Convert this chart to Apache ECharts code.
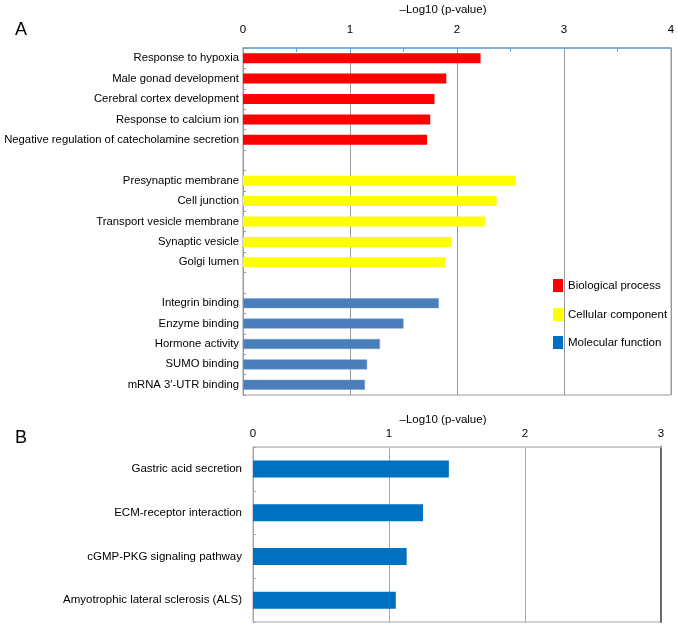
<!DOCTYPE html>
<html>
<head>
<meta charset="utf-8">
<script src="https://cdn.jsdelivr.net/npm/echarts@6/dist/echarts.min.js"></script>
<style>html,body{margin:0;padding:0;background:#fff}#c{width:677px;height:627px}</style>
</head>
<body>
<div id="c"></div>
<script>
// ---- data ----
var bioNames = ['Response to hypoxia','Male gonad development','Cerebral cortex development','Response to calcium ion','Negative regulation of catecholamine secretion'];
var bioVals = [2.22, 1.90, 1.79, 1.75, 1.72];
var ccNames = ['Presynaptic membrane','Cell junction','Transport vesicle membrane','Synaptic vesicle','Golgi lumen'];
var ccVals = [2.55, 2.37, 2.26, 1.95, 1.89];
var mfNames = ['Integrin binding','Enzyme binding','Hormone activity','SUMO binding','mRNA 3\u2032-UTR binding'];
var mfVals = [1.83, 1.50, 1.28, 1.16, 1.14];
var keggNames = ['Gastric acid secretion','ECM-receptor interaction','cGMP-PKG signaling pathway','Amyotrophic lateral sclerosis (ALS)'];
var keggVals = [1.44, 1.25, 1.13, 1.05];
var ticksA = [0, 1, 2, 3, 4];
var ticksB = [0, 1, 2, 3];
var axisTitle = '\u2013Log10 (p-value)';

// ---- build ----
var catsA = bioNames.concat([' ']).concat(ccNames).concat(['  ']).concat(mfNames);
function place(vals, offset) {
  var arr = catsA.map(function () { return null; });
  vals.forEach(function (v, i) { arr[offset + i] = v; });
  return arr;
}
var FONT = 'Liberation Sans, Arial, Helvetica, sans-serif';
var FS = 11.5;
function legendAt(top, item) {
  return {data: [item], left: 553, top: top, padding: 0, orient: 'vertical', icon: 'rect', itemWidth: 10, itemHeight: 13,
          selectedMode: false, itemStyle: {borderWidth: 0}, textStyle: {fontSize: FS, color: '#000', fontFamily: FONT}};
}
var chart = echarts.init(document.getElementById('c'), null, {renderer: 'canvas'});
var option = {
  animation: false,
  textStyle: {fontFamily: FONT},
  graphic: [
    {type: 'text', left: 15, top: 21, style: {text: 'A', font: '18px ' + FONT, fill: '#000'}},
    {type: 'text', left: 15, top: 429, style: {text: 'B', font: '18px ' + FONT, fill: '#000'}},
    {type: 'text', x: 443, y: 10, style: {text: axisTitle, font: FS + 'px ' + FONT, fill: '#000', align: 'center', verticalAlign: 'middle'}},
    {type: 'text', x: 443, y: 420, style: {text: axisTitle, font: FS + 'px ' + FONT, fill: '#000', align: 'center', verticalAlign: 'middle'}}
  ],
  legend: [
    legendAt(279, {name: 'Biological process'}),
    legendAt(308, {name: 'Cellular component'}),
    legendAt(336, {name: 'Molecular function', itemStyle: {color: '#0070c0', borderWidth: 0}})
  ],
  grid: [
    {left: 243, top: 48, width: 428, height: 347, outerBoundsMode: 'none', containLabel: false, show: true, borderColor: '#9a9a9a', borderWidth: 1, backgroundColor: 'transparent'},
    {left: 253, top: 447, width: 408, height: 175, outerBoundsMode: 'none', containLabel: false, show: true, borderColor: '#a8a8a8', borderWidth: 1, backgroundColor: 'transparent'}
  ],
  xAxis: [
    {gridIndex: 0, type: 'value', position: 'top', min: ticksA[0], max: ticksA[ticksA.length - 1], interval: 1,
     axisLine: {show: true, lineStyle: {color: '#6fa3d2', width: 1.5}},
     axisTick: {show: true, inside: true, length: 4, lineStyle: {color: '#6fa3d2'}},
     minorTick: {show: true, splitNumber: 2, length: 4, lineStyle: {color: '#6fa3d2'}},
     splitLine: {show: true, lineStyle: {color: '#9a9a9a', width: 1}},
     axisLabel: {fontSize: FS, color: '#000', margin: 12, fontFamily: FONT}},
    {gridIndex: 1, type: 'value', position: 'top', min: ticksB[0], max: ticksB[ticksB.length - 1], interval: 1,
     axisLine: {show: true, lineStyle: {color: '#c8c8c8', width: 1}},
     axisTick: {show: false},
     splitLine: {show: true, lineStyle: {color: '#a8a8a8', width: 1}},
     axisLabel: {fontSize: FS, color: '#000', margin: 7, fontFamily: FONT}}
  ],
  yAxis: [
    {gridIndex: 0, type: 'category', data: catsA, inverse: true,
     axisLine: {show: true, lineStyle: {color: '#9a9a9a'}},
     axisTick: {show: true, inside: true, length: 3, lineStyle: {color: '#9a9a9a'}},
     axisLabel: {fontSize: 11.3, color: '#000', margin: 4, fontFamily: FONT}},
    {gridIndex: 1, type: 'category', data: keggNames, inverse: true,
     axisLine: {show: true, lineStyle: {color: '#a8a8a8'}},
     axisTick: {show: true, inside: true, length: 3, lineStyle: {color: '#a8a8a8'}},
     axisLabel: {fontSize: FS, color: '#000', margin: 11, fontFamily: FONT}},
    {gridIndex: 1, type: 'category', data: keggNames, inverse: true, position: 'right',
     axisLine: {show: true, lineStyle: {color: '#6a6a6a', width: 2}},
     axisTick: {show: false}, axisLabel: {show: false}}
  ],
  series: [
    {name: 'Biological process', type: 'bar', xAxisIndex: 0, yAxisIndex: 0, data: place(bioVals, 0), barWidth: 10, barGap: '-100%', itemStyle: {color: '#ff0000'}},
    {name: 'Cellular component', type: 'bar', xAxisIndex: 0, yAxisIndex: 0, data: place(ccVals, 6), barWidth: 10, barGap: '-100%', itemStyle: {color: '#ffff00'}},
    {name: 'Molecular function', type: 'bar', xAxisIndex: 0, yAxisIndex: 0, data: place(mfVals, 12), barWidth: 10, barGap: '-100%', itemStyle: {color: '#4a7ebb', borderColor: '#6f9ad0', borderWidth: 0.5}},
    {name: 'KEGG pathway', type: 'bar', xAxisIndex: 1, yAxisIndex: 1, data: keggVals, barWidth: 17, itemStyle: {color: '#0070c0'}}
  ]
};
chart.setOption(option);
</script>
</body>
</html>
